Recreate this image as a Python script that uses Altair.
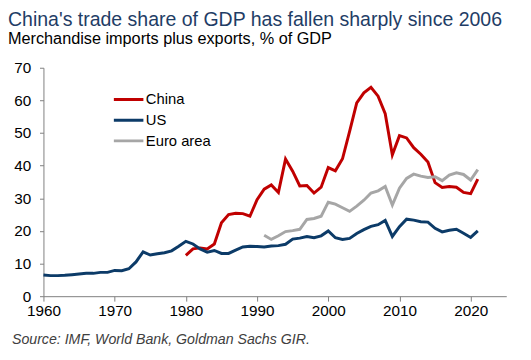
import altair as alt
import pandas as pd

# ---- data ----
us_years = list(range(1960, 2022))
us_vals = [6.5, 6.3, 6.3, 6.4, 6.6, 6.8, 7.0, 7.0, 7.3, 7.3,
           7.9, 7.8, 8.4, 10.5, 13.6, 12.6, 13.0, 13.3, 13.9, 15.3,
           16.8, 16.0, 14.5, 13.5, 14.0, 13.1, 13.1, 14.1, 15.1, 15.3,
           15.2, 15.1, 15.4, 15.5, 15.9, 17.5, 17.8, 18.3, 17.9, 18.5,
           20.0, 17.9, 17.4, 17.7, 19.2, 20.4, 21.4, 21.9, 23.2, 18.3,
           21.3, 23.6, 23.3, 22.8, 22.7, 20.8, 19.7, 20.2, 20.5, 19.3,
           18.0, 20.0]

china_years = list(range(1980, 2022))
china_vals = [12.5, 14.5, 14.8, 14.5, 16.0, 22.5, 25.0, 25.4, 25.3, 24.5,
              29.6, 32.8, 34.1, 31.8, 42.0, 38.3, 33.8, 33.9, 31.6, 33.4,
              39.4, 38.4, 42.1, 50.5, 59.2, 62.3, 64.0, 61.3, 55.9, 43.3,
              49.2, 48.5, 45.5, 43.5, 41.1, 34.8, 33.3, 33.6, 33.4, 31.8,
              31.4, 35.9]

euro_years = list(range(1991, 2022))
euro_vals = [18.7, 17.4, 18.5, 19.8, 20.1, 20.5, 23.5, 23.8, 24.5,
             28.8, 28.2, 27.1, 26.0, 27.6, 29.4, 31.6, 32.3, 33.6, 27.9,
             33.1, 36.1, 37.4, 36.8, 36.4, 36.6, 35.4, 37.1, 37.8, 37.3,
             35.6, 38.8]

series_names = ["China", "US", "Euro area"]
series_colors = ["#C00000", "#0C3B68", "#A6A6A6"]
x_ticks = [1960, 1970, 1980, 1990, 2000, 2010, 2020]
y_ticks = [0, 10, 20, 30, 40, 50, 60, 70]

title_text = "China's trade share of GDP has fallen sharply since 2006"
subtitle_text = "Merchandise imports plus exports, % of GDP"
source_text = "Source: IMF, World Bank, Goldman Sachs GIR."

rows = []
for name, yrs, vals in [("China", china_years, china_vals),
                        ("US", us_years, us_vals),
                        ("Euro area", euro_years, euro_vals)]:
    for y, v in zip(yrs, vals):
        rows.append({"year": y, "value": v, "series": name})
df = pd.DataFrame(rows)

FONT = "Arial, Liberation Sans, sans-serif"

lines = alt.Chart(df).mark_line(strokeWidth=3).encode(
    x=alt.X("year:Q",
            scale=alt.Scale(domain=[1960, 2025], nice=False, zero=False),
            axis=alt.Axis(values=x_ticks, format="d", title=None, grid=False,
                          tickSize=5, labelPadding=3, labelFontSize=15.5,
                          labelFont=FONT, labelColor="#000000",
                          domainColor="#7F7F7F", tickColor="#7F7F7F",
                          labelFlush=False)),
    y=alt.Y("value:Q",
            scale=alt.Scale(domain=[0, 70], nice=False),
            axis=alt.Axis(values=y_ticks, title=None, grid=False,
                          tickSize=4, labelPadding=9, labelFontSize=15.5,
                          labelFont=FONT, labelColor="#000000",
                          domainColor="#7F7F7F", tickColor="#7F7F7F")),
    color=alt.Color("series:N",
                    scale=alt.Scale(domain=series_names, range=series_colors),
                    legend=alt.Legend(orient="none", legendX=70, legendY=22,
                                      title=None, symbolType="stroke",
                                      symbolSize=900, symbolStrokeWidth=3,
                                      labelFontSize=15, labelFont=FONT,
                                      labelColor="#000000", labelOffset=1,
                                      clipHeight=20.5, rowPadding=0,
                                      padding=0)),
    detail="series:N",
)

src = alt.Chart(pd.DataFrame({"t": [source_text]})).mark_text(
    align="left", baseline="alphabetic", fontSize=14.4, fontStyle="italic",
    font=FONT, color="#404040"
).encode(text="t:N", x=alt.value(-32), y=alt.value(281))

chart = alt.layer(lines, src).properties(
    width=470, height=232,
    autosize=alt.AutoSizeParams(type="none"),
    padding={"left": 36, "top": 58, "right": 17, "bottom": 54},
    title=alt.TitleParams(
        text=title_text, subtitle=subtitle_text,
        anchor="start", frame="group", dx=-36, offset=14,
        font=FONT, fontSize=19.8, fontWeight="normal", color="#1F3D66",
        subtitleFont=FONT, subtitleFontSize=16.5, subtitleColor="#000000",
        subtitlePadding=1),
).configure_view(stroke=None)

chart.save("out.html", embed_options={"renderer": "svg", "actions": False})
